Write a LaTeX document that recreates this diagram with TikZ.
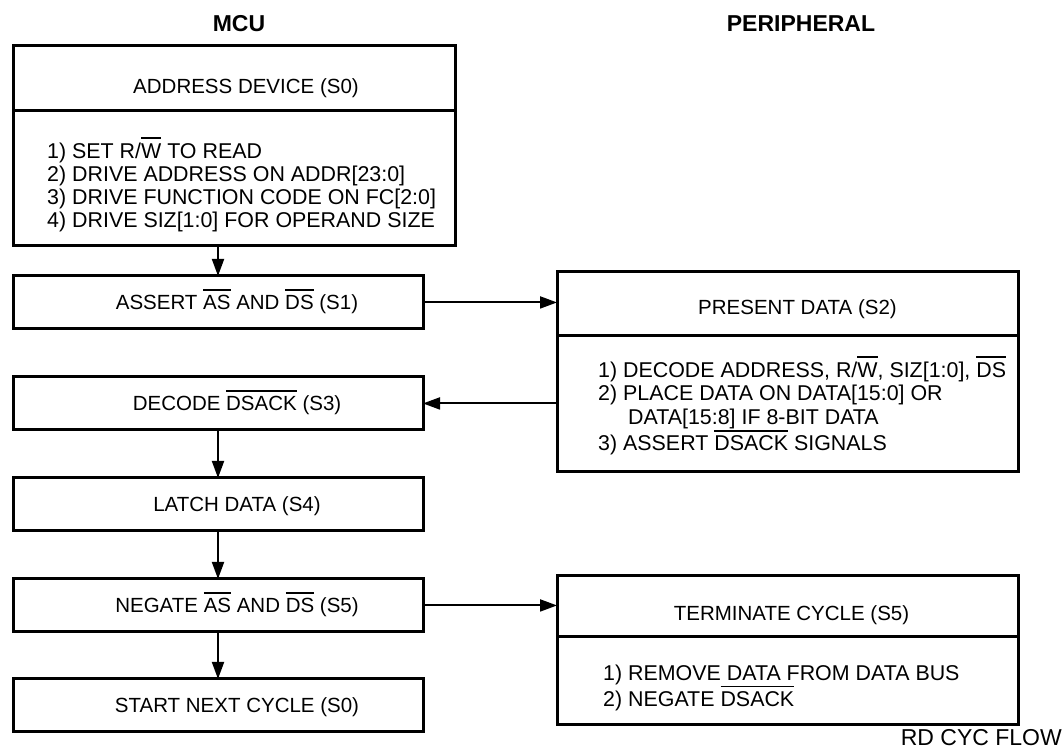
\documentclass[tikz,border=0pt]{standalone}
\usepackage{fontspec}
\setmainfont{Liberation Sans}
\usepackage{tikz}
\usetikzlibrary{positioning, arrows.meta}

\newsavebox\ovlbox
\newcommand\ovl[1]{\sbox\ovlbox{#1}\rlap{\rule[19pt]{\wd\ovlbox}{1.8pt}}\usebox\ovlbox}

\begin{document}
\begin{tikzpicture}[
    x=1pt, y=-1pt,
    box/.style={draw, line width=3pt, outer sep=0pt, inner sep=0pt, minimum width=410pt, minimum height=53pt},
    hd/.style={inner sep=0pt, text height=15pt, text depth=0pt, font=\fontsize{20.5}{23.5}\selectfont},
    body/.style={inner sep=0pt, align=left, anchor=north west, font=\fontsize{21.4}{23}\selectfont},
    title/.style={inner sep=0pt, text height=16.5pt, text depth=0pt, font=\fontsize{23}{26}\selectfont\bfseries},
    flow/.style={line width=2pt, -{Triangle[length=17pt, width=12pt]}}
]
\useasboundingbox (0,0) rectangle (1064,751);

% column titles
\node[title] (mcu) at (239,23) {MCU};
\node[title] (per) at (801,23) {PERIPHERAL};

% mcu side
\node[box, minimum width=442pt, minimum height=64.7pt] (adrhead) at (234,78.3) {};
\node[box, minimum width=442pt, minimum height=134.9pt, below=0pt of adrhead] (adrbody) {};
\node[box, below=30.4pt of adrbody.south west, anchor=north west] (s1) {};
\node[box, below=48pt of s1] (s3) {};
\node[box, below=48pt of s3] (s4) {};
\node[box, below=48pt of s4] (s5) {};
\node[box, below=47pt of s5] (s0) {};

\node[hd, xshift=12pt, yshift=-7.7pt] (adrtxt) at (adrhead) {ADDRESS DEVICE (S0)};
\node[body] (adrlist) at (47,137.2) {1) SET R/\ovl{W} TO READ\\
    2) DRIVE ADDRESS ON ADDR[23:0]\\
    3) DRIVE FUNCTION CODE ON FC[2:0]\\
    4) DRIVE SIZ[1:0] FOR OPERAND SIZE};
\node[hd, xshift=19pt] (s1txt) at (s1) {ASSERT \ovl{AS} AND \ovl{DS} (S1)};
\node[hd, xshift=19pt] (s3txt) at (s3) {DECODE \ovl{DSACK} (S3)};
\node[hd, xshift=19pt] (s4txt) at (s4) {LATCH DATA (S4)};
\node[hd, xshift=19pt] (s5txt) at (s5) {NEGATE \ovl{AS} AND \ovl{DS} (S5)};
\node[hd, xshift=19pt] (s0txt) at (s0) {START NEXT CYCLE (S0)};

% peripheral side
\node[box, minimum width=461pt, minimum height=64pt] (prehead) at (787.5,303.7) {};
\node[box, minimum width=461pt, minimum height=135.3pt, below=0pt of prehead] (prebody) {};
\node[hd, xshift=10pt, yshift=-3pt] (pretxt) at (prehead) {PRESENT DATA (S2)};
\node[body, font=\fontsize{21.4}{23.7}\selectfont] (prelist) at (598,356) {1) DECODE ADDRESS, R/\ovl{W}, SIZ[1:0], \ovl{DS}\\
    2) PLACE DATA ON DATA[15:0] OR\\
    \hspace*{30pt}DATA[15:8] IF 8-BIT DATA\\
    3) ASSERT \ovl{DSACK} SIGNALS};

\node[box, minimum width=461pt, minimum height=61.7pt] (termhead) at (787.5,606) {};
\node[box, minimum width=461pt, minimum height=87.3pt, below=0pt of termhead] (termbody) {};
\node[hd, xshift=4pt, yshift=-7pt] (termtxt) at (termhead) {TERMINATE CYCLE (S5)};
\node[body] (termlist) at (603,664.4) {1) REMOVE DATA FROM DATA BUS\\
    2) NEGATE \ovl{DSACK}};

\node[hd, anchor=east, text height=16.5pt, font=\fontsize{23}{26}\selectfont] (tag) at (1062,737.5) {RD CYC FLOW};

% arrows
\draw[flow] (s1.north |- adrbody.south) -- (s1.north);
\draw[flow] (s1.east) -- (s1.east -| prehead.west);
\draw[flow] (s3.east -| prebody.west) -- (s3.east);
\draw[flow] (s3.south) -- (s4.north);
\draw[flow] (s4.south) -- (s5.north);
\draw[flow] (s5.south) -- (s0.north);
\draw[flow] (s5.east) -- (s5.east -| termhead.west);
\end{tikzpicture}
\end{document}
